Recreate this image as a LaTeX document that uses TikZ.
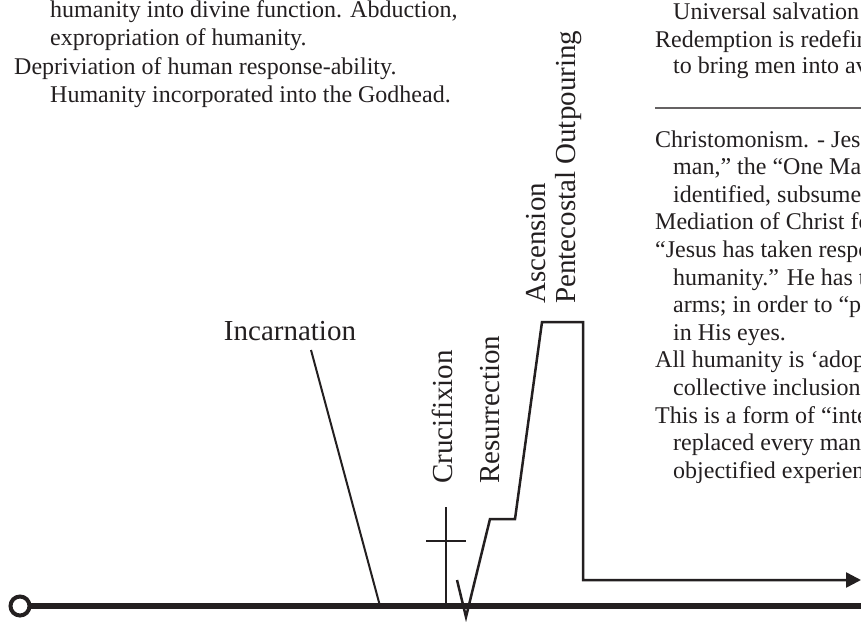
\documentclass[tikz,border=0pt]{standalone}
\usepackage{fontspec}
\setmainfont{Liberation Serif}
\usetikzlibrary{arrows.meta}
\definecolor{ink}{RGB}{35,31,32}
\tikzset{
  label/.style={font=\fontsize{29}{29}\selectfont, text=ink, inner sep=0pt},
  vlabel/.style={label, rotate=90, anchor=base west},
  body/.style={font=\fontsize{24}{27}\selectfont, text=ink, inner sep=0pt, anchor=base west},
  track/.style={draw=ink, line width=2.5pt, line join=miter},
  stroke/.style={draw=ink, line width=2pt},
  axis/.style={draw=ink, line width=5.5pt}
}
\begin{document}
\begin{tikzpicture}[x=1pt,y=-1pt]
  \useasboundingbox (0,0) rectangle (861,621);
  \clip (0,0) rectangle (861,621);
  % left notes
  \foreach \i/\xx/\yy/\txt in {1/50/17/{humanity into divine function. Abduction,},
      2/50/45/{expropriation of humanity.},
      3/14/74/{Depriviation of human response-ability.},
      4/50/102/{Humanity incorporated into the Godhead.}}{
    \node[body] (left\i) at (\xx,\yy) {\txt};
  }
  % right notes, upper part
  \foreach \i/\xx/\yy/\txt in {1/673/19/{Universal salvation},
      2/655/47/{Redemption is redefin},
      3/673/73/{to bring men into av}}{
    \node[body] (up\i) at (\xx,\yy) {\txt};
  }
  \coordinate (ruleL) at (655,108);
  \coordinate (ruleR) at (861,108);
  \draw[ink!70, line width=1.2pt] (ruleL) -- (ruleR);
  % right notes, lower part
  \foreach \i/\xx/\txt in {0/655/{Christomonism. - Jes},
      1/673/{man,” the “One Ma},
      2/673/{identified, subsume},
      3/655/{Mediation of Christ fo},
      4/655/{“Jesus has taken respo},
      5/673/{humanity.” He has t},
      6/673/{arms; in order to “p},
      7/673/{in His eyes.},
      8/655/{All humanity is ‘adop},
      9/673/{collective inclusion},
      10/655/{This is a form of “inte},
      11/673/{replaced every man},
      12/673/{objectified experien}}{
    \node[body] (low\i) at (\xx,147+27.6*\i) {\txt};
  }
  % time line
  \coordinate (start) at (20,606);
  \coordinate (end) at (861,606);
  \draw[axis] (start) ++(9.5,0) -- (end);
  \draw[ink, line width=4pt] (start) circle (9.5);
  % incarnation
  \node[label, anchor=base] (incarnation) at (290,340) {Incarnation};
  \coordinate (incTop) at (311,350);
  \coordinate (incFoot) at (380,606);
  \draw[stroke] (incTop) -- (incFoot);
  % cross
  \coordinate (crossTop) at (446,507);
  \coordinate (crossFoot) at (446,606);
  \coordinate (barL) at (426,541);
  \coordinate (barR) at (466,541);
  \draw[stroke] (crossTop) -- (crossFoot);
  \draw[stroke] (barL) -- (barR);
  \node[vlabel] (crucifixion) at (452,484) {Crucifixion};
  \node[vlabel] (resurrection) at (499,484) {Resurrection};
  \node[vlabel] (ascension) at (545,304) {Ascension};
  \node[vlabel] (pentecost) at (575,304) {Pentecostal Outpouring};
  % descent, rising and outpouring
  \coordinate (v1) at (457,580);
  \coordinate (v2) at (466,617);
  \coordinate (r1) at (490,519);
  \coordinate (r2) at (515,519);
  \coordinate (a1) at (542,322);
  \coordinate (a2) at (583,322);
  \coordinate (p1) at (583,580);
  \coordinate (p2) at (861,580);
  \draw[track, -{Triangle[length=15pt,width=15pt]}]
    (v1) -- (v2) -- (r1) -- (r2) -- (a1) -- (a2) -- (p1) -- (p2);
\end{tikzpicture}
\end{document}
